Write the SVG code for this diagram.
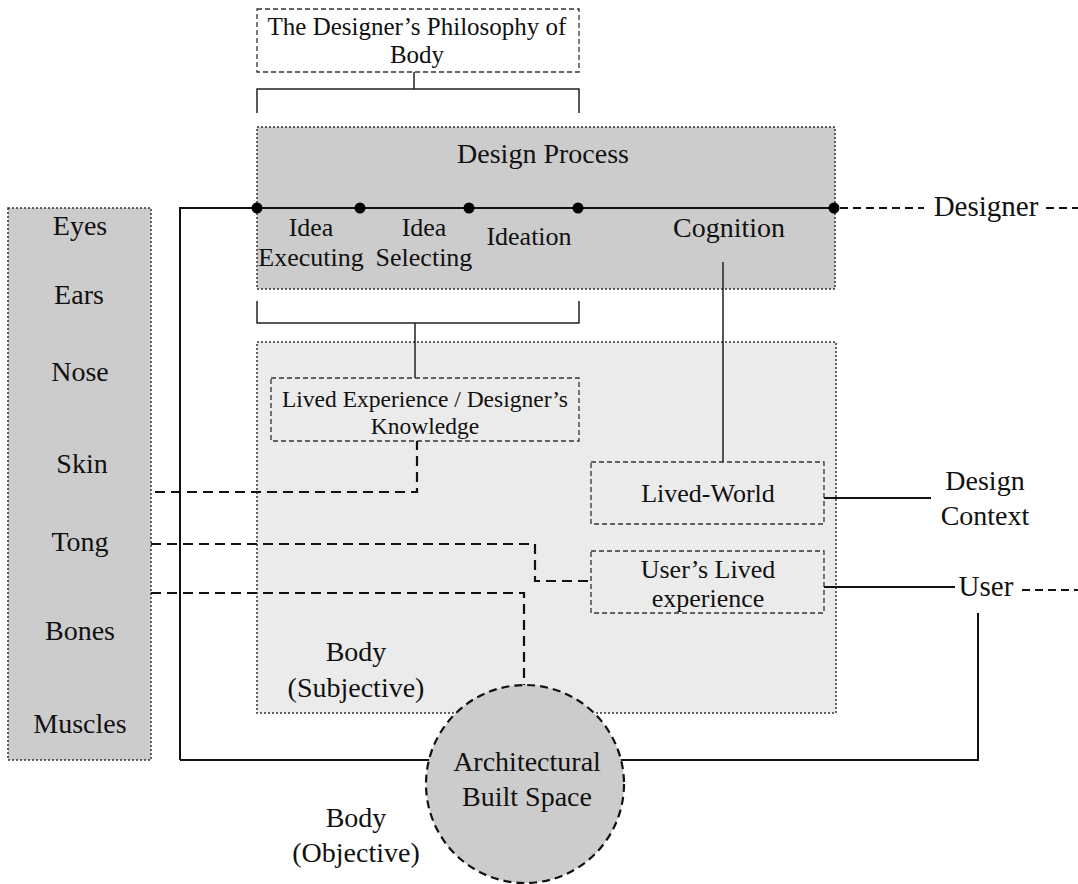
<svg xmlns="http://www.w3.org/2000/svg" width="1078" height="884" viewBox="0 0 1078 884">
<style>
text{font-family:"Liberation Serif","Times New Roman",serif;fill:#111;text-anchor:middle}
.t28{font-size:28px}.t26{font-size:26px}.t25{font-size:25px}.t23{font-size:23.5px}
.dot{fill:#cccccc;stroke:#333;stroke-width:1.5;stroke-dasharray:2 2}
.dotl{fill:#ebebeb;stroke:#333;stroke-width:1.5;stroke-dasharray:2 2}
.dbox{fill:none;stroke:#333;stroke-width:1.3;stroke-dasharray:5 3}
.solid{fill:none;stroke:#111;stroke-width:2}
.thin{fill:none;stroke:#222;stroke-width:1.5}
.dash{fill:none;stroke:#111;stroke-width:2.2;stroke-dasharray:10 6}
.dash2{fill:none;stroke:#111;stroke-width:2;stroke-dasharray:8 5}
.pt{fill:#000}
</style>
<rect width="1078" height="884" fill="#fff"/>
<g id="philosophy">
<rect class="dbox" x="257" y="9" width="322" height="63"/>
<text class="t25" x="417" y="35">The Designer’s Philosophy of</text>
<text class="t25" x="417" y="63">Body</text>
</g>
<g id="design-process">
<rect class="dot" x="257" y="127" width="578" height="162"/>
<text class="t28" x="543" y="163">Design Process</text>
<text class="t26" x="311" y="236">Idea</text>
<text class="t26" x="311" y="266">Executing</text>
<text class="t26" x="424" y="236">Idea</text>
<text class="t26" x="424" y="266">Selecting</text>
<text class="t26" x="529" y="245">Ideation</text>
<text class="t28" x="729" y="237">Cognition</text>
</g>
<g id="senses">
<rect class="dot" x="8" y="208" width="143" height="552"/>
<text class="t28" x="80" y="235">Eyes</text>
<text class="t28" x="79" y="304">Ears</text>
<text class="t28" x="80" y="381">Nose</text>
<text class="t28" x="82" y="473">Skin</text>
<text class="t28" x="80" y="551">Tong</text>
<text class="t28" x="80" y="640">Bones</text>
<text class="t28" x="80" y="733">Muscles</text>
</g>
<g id="body-subjective">
<rect class="dotl" x="257" y="342" width="579" height="371"/>
<text class="t28" x="356" y="661">Body</text>
<text class="t28" x="356" y="697">(Subjective)</text>
</g>
<g id="lived-experience">
<rect class="dbox" x="271" y="378" width="308" height="63" fill="#ebebeb"/>
<text class="t23" x="425" y="407">Lived Experience / Designer’s</text>
<text class="t23" x="425" y="434">Knowledge</text>
</g>
<g id="lived-world">
<rect class="dbox" x="591" y="462" width="233" height="62"/>
<text class="t26" x="708" y="502">Lived-World</text>
</g>
<g id="users-lived">
<rect class="dbox" x="591" y="551" width="233" height="62"/>
<text class="t26" x="708" y="578">User’s Lived</text>
<text class="t26" x="708" y="607">experience</text>
</g>
<g id="connectors">
<path class="thin" d="M414,72 V89 M257,113 V89 H579 V113"/>
<path class="thin" d="M257,301 V323 H579 V301 M415,323 V378"/>
<path class="thin" d="M723,262 V462"/>
<path class="solid" d="M180,760 V208 H834"/>
<path class="solid" d="M180,760 H978 V613"/>
<path class="solid" d="M824,498 H931"/>
<path class="solid" d="M824,587 H955"/>
<path class="dash2" d="M840,208 H924"/>
<path class="dash2" d="M1046,208 H1078"/>
<path class="dash2" d="M1022,590 H1078"/>
<path class="dash" d="M155,492 H417 V441"/>
<path class="dash" d="M151,544 H535 V581 H591"/>
<path class="dash" d="M151,593 H524 V685"/>
<circle class="pt" cx="257" cy="208" r="5.5"/>
<circle class="pt" cx="360" cy="208" r="5.5"/>
<circle class="pt" cx="469" cy="208" r="5.5"/>
<circle class="pt" cx="578" cy="208" r="5.5"/>
<circle class="pt" cx="834" cy="208" r="5.5"/>
</g>
<g id="built-space">
<circle cx="525" cy="784" r="99" fill="#cccccc" stroke="#111" stroke-width="2.2" stroke-dasharray="8 5"/>
<text class="t28" x="527" y="771">Architectural</text>
<text class="t28" x="527" y="806">Built Space</text>
</g>
<g id="labels">
<text class="t28" x="986" y="216" style="font-size:29px">Designer</text>
<text class="t28" x="985" y="490">Design</text>
<text class="t28" x="985" y="525">Context</text>
<text class="t28" x="986" y="596" style="font-size:29px">User</text>
<text class="t28" x="356" y="827">Body</text>
<text class="t28" x="356" y="862">(Objective)</text>
</g>
</svg>
